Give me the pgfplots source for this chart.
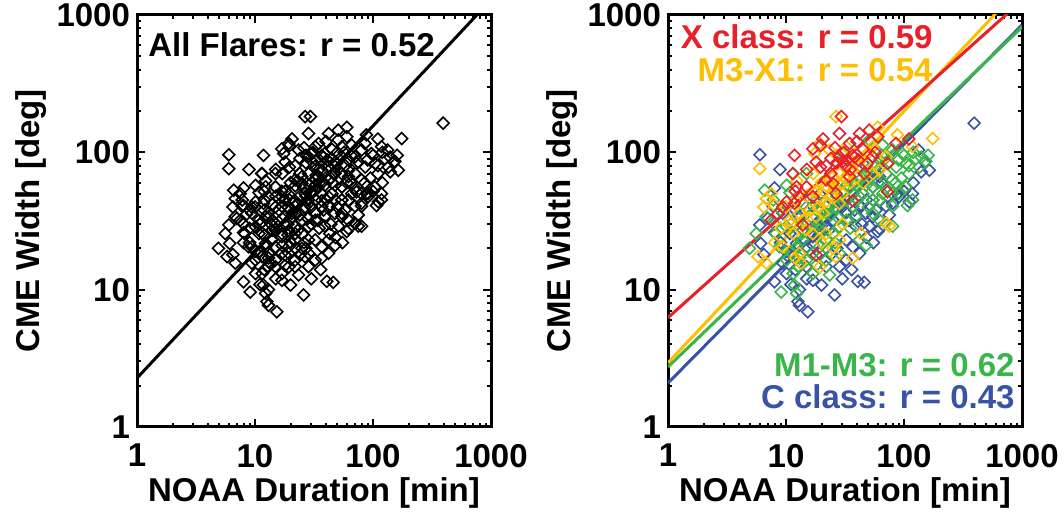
\documentclass[border=0pt]{standalone}
\usepackage{pgfplots}
\usepackage{pgfplotstable}
\pgfplotsset{compat=1.18}
\usepackage{fontspec}
\setmainfont{Liberation Sans}
\definecolor{cred}{RGB}{232,32,42}
\definecolor{cyel}{RGB}{255,190,0}
\definecolor{cgrn}{RGB}{58,181,74}
\definecolor{cblu}{RGB}{57,83,164}

% X class
\pgfplotstableread{
x y
29.5 182
28.4 137
19.6 112
11.8 95
11.4 70
10.1 43.5
8.5 35.5
7.5 32
12.3 56
11.8 42.5
13.9 29.6
18 17.9
19.6 78
24 70
30.4 86
34.6 116
42 137
50.7 145
36.8 95
49 83
60 130
85.5 116
110 125
72.5 51.5
34.6 66.5
28.4 93
32.4 79
21.9 63
16.9 47.5
14.9 56
25 59.5
41 88
54.4 93
72.5 83
26.6 50
9.4 40
20.6 125
16.9 106
13 47.5
36.8 44.5
33 88
38 92
31 100
27 84
22 80
45 105
40 120
18 85
15 75
24 90
35 75
46 70
12 52
26 108
57 100
}\datX
% M3-X1
\pgfplotstableread{
x y
26.6 182
17.5 98
6 76
60 152
88 134
175 126
19.3 116
23.3 104
32.4 110
39 98
54.4 110
6.8 46
8 41
5.8 17.4
6.8 15.6
13.4 15.6
19.3 14.6
25 20
36.8 17
70.5 30.4
75 29
28.4 42.5
12.3 62
14.9 56
16.9 52
19.6 45
21.9 57
25 66.5
28.4 70
32.4 63
36.8 74
42 79
47.7 85
54.4 70
61.9 74
13 36
14.9 27.2
11.5 25.6
9.4 20.5
10.8 32
18 34
21.9 25.6
28.4 23
26.6 17.4
16.9 25.6
13 18.4
20.6 36
70.5 93
118 110
43 25.6
10 40
12 45
15 48
18 52
20 60
23 62
26 55
29 58
33 68
38 82
44 90
16 38
14 32
9 28
8 22
11 30
24 48
30 50
22 44
19 40
35 60
50 100
6.5 40
7.5 50
17 70
27 95
45 60
12 17
20 22
30 30
}\datMX
% M1-M3
\pgfplotstableread{
x y
4.9 20
6.6 53
10.1 57.5
11.5 70
9.1 9.6
12.3 9.4
11.8 10.8
23.4 12.8
47.7 21
66 113
97 98
126 90
153 86
110 70
107 41
39 34
54.4 56
80 63
62 45
91 50
118 45
80 40.5
54.4 36
70.5 70
47.7 57.5
42 47.5
36.8 40.5
32.4 32
28.4 28.7
25 25.6
21.9 23
19.3 20.5
16.9 18.4
14.9 16.4
13 14.7
11.5 13.1
10.1 16.4
8.8 20.5
8.2 25.6
10.1 28.7
12.3 34
14.9 40
18 45
21.9 36
26.6 40
32.4 45
39 57.5
54.4 45
80 50
104 56
135 78
104 83
86 78
62 88
47.7 70
32.4 57.5
19.3 27
13.9 23
12.3 20.5
28.4 18.4
42 23
62 32
80 29
21.9 16.4
16.9 13.1
10.8 51
7.8 45
6.8 34
5.6 25.6
14.9 70
30.4 98
50.7 123
80 104
15 30
17 33
20 38
23 42
27 48
30 52
34 55
37 60
44 65
50 75
58 80
65 95
75 85
90 88
100 95
120 100
140 92
160 95
12 25
14 27
19 30
24 35
28 33
40 45
45 50
60 60
70 55
85 60
95 65
110 80
11 19
13 17
18 15
22 20
26 22
35 28
50 40
66 50
8 30
9 38
}\datMM
% C class
\pgfplotstableread{
x y
393 163
6 96
8.9 75
164 74
133 104
8 55
6 29.6
6.1 21.7
8 11.4
11 10.9
13 7.7
15.3 6.9
12.6 8.2
25.8 9.15
40.6 11.5
46 11.3
60 26.5
62 27.8
70 30.4
111 43.6
88 50
28.4 28.7
47.7 36
54.4 34
7.8 40.5
9.4 36
10.8 25.6
12.3 21.7
13.9 27.2
16.9 24.3
19.3 18.4
14.9 14.7
16.9 11.7
21.9 14.7
28.4 14.7
36.8 20.5
42 18.4
32.4 23
25 32
21.9 40.5
19.3 49.5
16.9 40.5
13 34
28.4 45
36.8 50
42 40.5
54.4 56
62 66.5
91 47.5
39 29
32.4 16.4
11.5 17.4
9.4 15.6
10.1 13.1
13 10
54.4 45
51 29
70.5 40.5
80 42.5
118 50
47.7 79
21.9 28.7
32.4 36.5
14.9 20.5
20 10.8
11 30
12 38
14 42
16 46
18 30
20 33
23 27
26 38
30 40
34 32
38 38
44 30
48 45
58 38
65 60
75 35
100 52
140 72
9 22
10 19
12 14
15 12
17 21
19 25
24 18
27 20
30 12
36 14
48 24
55 22
7 33
8 26
6.5 18
150 85
120 60
}\datC

\pgfplotsset{
  every axis/.append style={
    scale only axis, width=177pt, height=206pt,
    xmin=1, xmax=1000, ymin=1, ymax=1000,
    xtick={1,10,100,1000}, xticklabels={1,10,100,1000},
    ytick={1,10,100,1000}, yticklabels={1,10,100,1000},
    tick align=inside,
    major tick length=4pt, minor tick length=2pt,
    axis line style={line width=1.5pt},
    every tick/.style={black, line width=1pt},
    tick label style={font=\fontsize{16.5}{19}\selectfont\bfseries},
    label style={font=\fontsize{16.5}{19}\selectfont\bfseries},
    xlabel style={yshift=2pt},
    ylabel style={yshift=-2pt},
    xticklabel style={yshift=-5pt},
  },
}
\tikzset{
  dmark/.style={mark=square, mark size=2.1pt,
    mark options={rotate=45, line width=0.8pt, fill=none, draw=#1}},
}

\begin{document}
\begin{tikzpicture}
\useasboundingbox (0,0) rectangle (532pt,256pt);
\begin{axis}[xmode=log, ymode=log, at={(68.5pt,42.5pt)}, anchor=south west,
  xlabel={NOAA Duration [min]}, ylabel={CME Width [deg]}]
\addplot[only marks, dmark=black] table[x=x,y=y] {\datC};
\addplot[only marks, dmark=black] table[x=x,y=y] {\datMM};
\addplot[only marks, dmark=black] table[x=x,y=y] {\datMX};
\addplot[only marks, dmark=black] table[x=x,y=y] {\datX};
\addplot[black, line width=1.5pt] coordinates {(1,2.27) (1000,1289)};
\end{axis}
\begin{axis}[xmode=log, ymode=log, at={(334pt,42.5pt)}, anchor=south west,
  xlabel={NOAA Duration [min]}, ylabel={CME Width [deg]}]
\addplot[only marks, dmark=cblu] table[x=x,y=y] {\datC};
\addplot[only marks, dmark=cgrn] table[x=x,y=y] {\datMM};
\addplot[only marks, dmark=cyel] table[x=x,y=y] {\datMX};
\addplot[only marks, dmark=cred] table[x=x,y=y] {\datX};
\addplot[cblu, line width=1.5pt] coordinates {(1,2.09) (1000,845)};
\addplot[cgrn, line width=1.5pt] coordinates {(1,2.74) (1000,817)};
\addplot[cyel, line width=1.5pt] coordinates {(1,2.93) (1000,1640)};
\addplot[cred, line width=1.5pt] coordinates {(1,6.25) (1000,1275)};
\end{axis}
\begin{scope}[every node/.style={font=\fontsize{16.5}{19}\selectfont\bfseries, inner sep=0pt}]
\node[anchor=base west] at (74pt,227.5pt) {All Flares: r = 0.52};
\node[anchor=base east, text=cred] at (466.5pt,231.8pt) {X class: r = 0.59};
\node[anchor=base east, text=cyel] at (466.5pt,215.2pt) {M3-X1: r = 0.54};
\node[anchor=base east, text=cgrn] at (507.5pt,67.7pt) {M1-M3: r = 0.62};
\node[anchor=base east, text=cblu] at (507.5pt,51.8pt) {C class: r = 0.43};
\end{scope}
\end{tikzpicture}
\end{document}
